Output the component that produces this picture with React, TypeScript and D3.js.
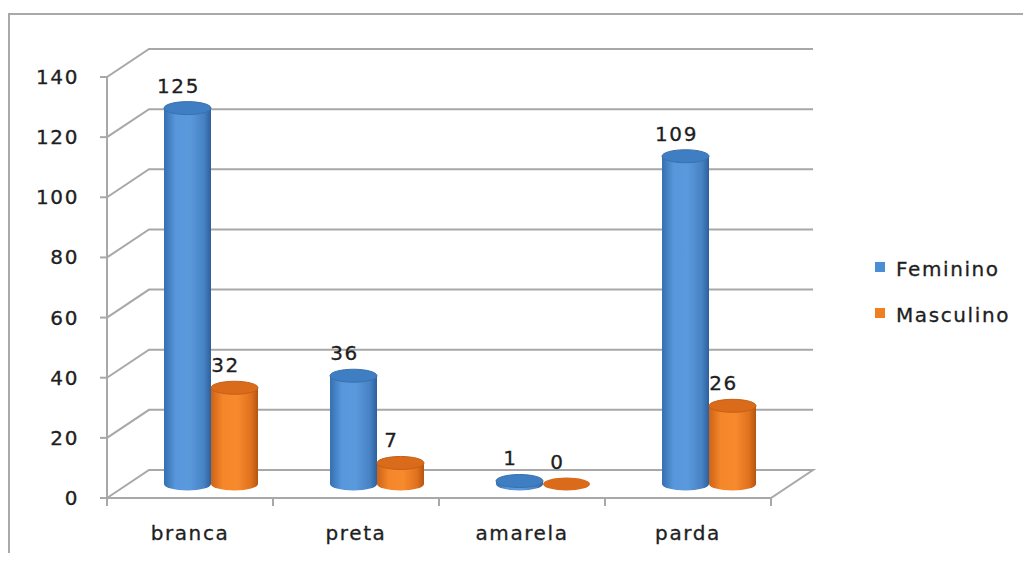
import * as d3 from 'd3';
import React, { useEffect, useRef } from 'react';

const categories = ['branca', 'preta', 'amarela', 'parda'];
const seriesNames = ['Feminino', 'Masculino'];
const feminino = [125, 36, 1, 109];
const masculino = [32, 7, 0, 26];
const yTicks = [0, 20, 40, 60, 80, 100, 120, 140];

const FONT = '"DejaVu Sans", Verdana, sans-serif';

const App = () => {
  const ref = useRef<SVGSVGElement>(null);

  useEffect(() => {
    const svg = d3.select(ref.current);
    svg.selectAll('*').remove();

    const width = 1031;
    const height = 561;
    // depth offset of the 3d floor/back wall
    const dx = 42;
    const dy = -28;

    const y = d3.scaleLinear().domain([0, 140]).range([498, 77]);
    const x = d3.scaleBand().domain(categories).range([107, 771]).padding(0);
    const x1 = d3.scaleBand().domain(seriesNames).range([36, 130]).padding(0);

    const defs = svg.append('defs');
    const makeGrad = (id: string, stops: [number, string][]) => {
      const g = defs
        .append('linearGradient')
        .attr('id', id)
        .attr('x1', '0%')
        .attr('x2', '100%')
        .attr('y1', '0%')
        .attr('y2', '0%');
      stops.forEach(([o, c]) => g.append('stop').attr('offset', `${o}%`).attr('stop-color', c));
    };
    makeGrad('bodyBlue', [
      [0, '#3570b0'],
      [25, '#5897dc'],
      [55, '#5a99dc'],
      [85, '#4682c4'],
      [100, '#2d609b']
    ]);
    makeGrad('bodyOrange', [
      [0, '#cc6318'],
      [25, '#f5862a'],
      [55, '#f88a2e'],
      [85, '#e0721e'],
      [100, '#b5550f']
    ]);

    const colors: Record<string, { body: string; top: string; legend: string }> = {
      Feminino: { body: 'url(#bodyBlue)', top: '#3f7ec2', legend: '#4a8fd6' },
      Masculino: { body: 'url(#bodyOrange)', top: '#d96b1b', legend: '#f07f22' }
    };

    const textStyle = (sel: d3.Selection<SVGTextElement, unknown, null, undefined>) =>
      sel
        .attr('font-family', FONT)
        .attr('font-size', 20)
        .attr('letter-spacing', 1.6)
        .attr('fill', '#1e1e1e')
        .attr('stroke', '#1e1e1e')
        .attr('stroke-width', 0.3);

    // outer frame (cropped at right / bottom)
    svg
      .append('rect')
      .attr('x', 9)
      .attr('y', 14)
      .attr('width', width)
      .attr('height', height)
      .attr('fill', 'none')
      .attr('stroke', '#a9a9a9')
      .attr('stroke-width', 2);

    const gridColor = '#a8a8a8';
    const x0 = 107;
    const xEnd = 771;

    // back wall gridlines with diagonal connectors on the left side wall
    const grid = svg.append('g');
    yTicks.forEach((t) => {
      const yy = y(t);
      grid
        .append('path')
        .attr(
          'd',
          t === 0
            ? `M${x0},${yy}L${x0 + dx},${yy + dy}L${xEnd + dx},${yy + dy}L${xEnd},${yy}Z`
            : `M${x0},${yy}L${x0 + dx},${yy + dy}L${xEnd + dx},${yy + dy}`
        )
        .attr('fill', 'none')
        .attr('stroke', gridColor)
        .attr('stroke-width', 2);
    });

    // value axis
    grid
      .append('line')
      .attr('x1', x0)
      .attr('x2', x0)
      .attr('y1', y(140))
      .attr('y2', y(0) + 4)
      .attr('stroke', gridColor)
      .attr('stroke-width', 2);
    yTicks.forEach((t) => {
      grid
        .append('line')
        .attr('x1', x0 - 7)
        .attr('x2', x0)
        .attr('y1', y(t))
        .attr('y2', y(t))
        .attr('stroke', gridColor)
        .attr('stroke-width', 2);
      svg
        .append('text')
        .attr('x', 79)
        .attr('y', y(t) + 7)
        .attr('text-anchor', 'end')
        .call(textStyle)
        .text(t);
    });

    // category axis ticks
    [...categories.map((c) => x(c) as number), xEnd].forEach((tx) => {
      grid
        .append('line')
        .attr('x1', tx)
        .attr('x2', tx)
        .attr('y1', y(0))
        .attr('y2', y(0) + 8)
        .attr('stroke', gridColor)
        .attr('stroke-width', 2);
    });
    categories.forEach((c) => {
      svg
        .append('text')
        .attr('x', (x(c) as number) + x.bandwidth() / 2)
        .attr('y', 540)
        .attr('text-anchor', 'middle')
        .call(textStyle)
        .text(c);
    });

    // cylinders
    const ry = 6.5;
    const bars = categories.flatMap((c, i) => [
      { cat: c, s: 'Feminino', v: feminino[i] },
      { cat: c, s: 'Masculino', v: masculino[i] }
    ]);
    const gBars = svg.append('g');
    bars.forEach((b) => {
      const left = (x(b.cat) as number) + (x1(b.s) as number) + dx / 2;
      const w = x1.bandwidth();
      const rx = w / 2;
      const cx = left + rx;
      const base = y(0) + dy / 2;
      const top = y(b.v) + dy / 2;
      const col = colors[b.s];
      if (b.v > 0) {
        gBars
          .append('path')
          .attr(
            'd',
            `M${left},${top}L${left},${base}A${rx},${ry} 0 0 0 ${left + w},${base}L${left + w},${top}Z`
          )
          .attr('fill', col.body);
      }
      gBars
        .append('ellipse')
        .attr('cx', cx)
        .attr('cy', top)
        .attr('rx', rx)
        .attr('ry', ry)
        .attr('fill', col.top)
        .attr('stroke', b.v > 0 ? d3.color(col.top)!.darker(0.3).toString() : 'none')
        .attr('stroke-width', 1);

      svg
        .append('text')
        .attr('x', cx - 9)
        .attr('y', top - ry - 9)
        .attr('text-anchor', 'middle')
        .call(textStyle)
        .text(b.v);
    });

    // legend
    seriesNames.forEach((s, i) => {
      const ly = 262 + i * 46;
      svg
        .append('rect')
        .attr('x', 875)
        .attr('y', ly)
        .attr('width', 10)
        .attr('height', 10)
        .attr('fill', colors[s].legend);
      svg
        .append('text')
        .attr('x', 896)
        .attr('y', ly + 14)
        .call(textStyle)
        .text(s);
    });
  }, []);

  return <svg ref={ref} width={1031} height={561} style={{ display: 'block', margin: -8 }} />;
};

export default App;
